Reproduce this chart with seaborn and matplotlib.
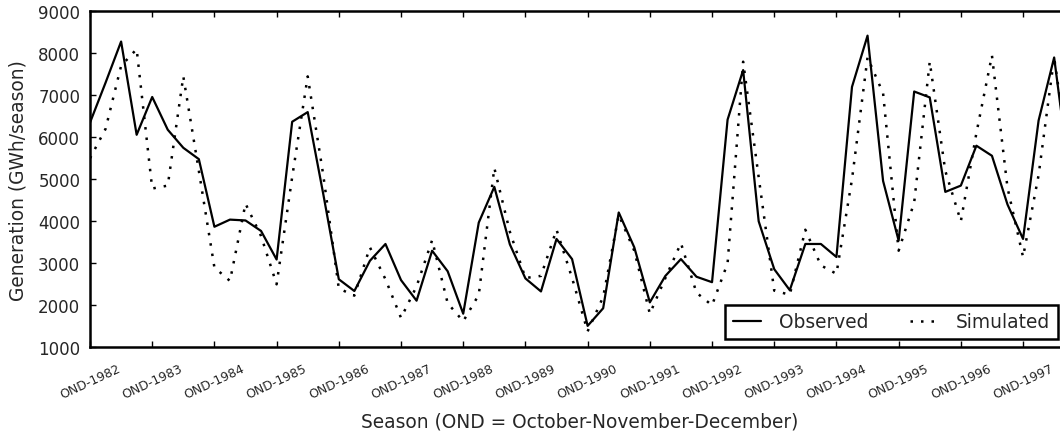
import matplotlib
matplotlib.use("Agg")
import matplotlib.pyplot as plt
import numpy as np
import pandas as pd
import seaborn as sns

# Seasonal hydropower generation (GWh/season), one value per quarter starting OND-1982
observed = [6350, 7300, 8280, 6060, 6960, 6180, 5750, 5480, 3870, 4040,
            4020, 3770, 3090, 6370, 6600, 4650, 2620, 2340, 3060, 3460,
            2600, 2110, 3300, 2810, 1800, 3970, 4820, 3450, 2640, 2330,
            3580, 3100, 1510, 1930, 4210, 3380, 2070, 2700, 3100, 2680,
            2550, 6420, 7600, 4000, 2860, 2360, 3460, 3460, 3150, 7200,
            8420, 4960, 3540, 7090, 6950, 4700, 4850, 5800, 5560, 4400,
            3580, 6400, 7900, 5040]
simulated = [5500, 6200, 7700, 8100, 4780, 4850, 7450, 5200, 2900, 2580,
             4420, 3650, 2500, 5050, 7450, 5100, 2400, 2230, 3380, 2620,
             1700, 2450, 3550, 2050, 1620, 2250, 5270, 3750, 2650, 2700,
             3800, 2650, 1380, 2200, 4150, 3300, 1800, 2650, 3480, 2300,
             2000, 3000, 7800, 5050, 2350, 2250, 3800, 2950, 2750, 5000,
             7900, 7050, 3300, 4450, 7800, 5200, 4000, 6100, 7950, 4800,
             3150, 5100, 7900, 5300]
tick_labels = [f"OND-{y}" for y in range(1982, 1998)]

season_idx = np.arange(len(observed))
df = pd.DataFrame({"season": season_idx, "Observed": observed, "Simulated": simulated})

sns.set_style("white")
plt.rcParams["font.family"] = ["DejaVu Sans"]
plt.rcParams["text.color"] = "0.15"

W, H = 1060, 435
fig = plt.figure(figsize=(W / 100, H / 100), dpi=100)
left, right, top, bottom = 90, 1069.7, 12.3, 348.3
ax = fig.add_axes([left / W, 1 - bottom / H, (right - left) / W, (bottom - top) / H])

sns.lineplot(data=df, x="season", y="Observed", ax=ax, color="black",
             linewidth=1.6, label="Observed")
sns.lineplot(data=df, x="season", y="Simulated", ax=ax, color="black",
             linewidth=1.8, linestyle=(0, (1, 3.2)), label="Simulated")

ax.set_xlim(0, len(observed) - 1)
ax.set_ylim(1000, 9000)
ax.set_yticks(np.arange(1000, 9001, 1000))
ax.set_xticks(np.arange(0, 4 * len(tick_labels), 4))
ax.set_xticklabels(tick_labels, rotation=25, ha="center", fontsize=9, color="0.15")
ax.tick_params(direction="in", length=4.5, width=1, top=True, right=True,
               bottom=True, left=True, colors="black")
ax.tick_params(axis="y", labelsize=12, labelcolor="0.15", pad=7)
ax.tick_params(axis="x", labelcolor="0.15", pad=10)

for s in ax.spines.values():
    s.set_linewidth(1.8)
    s.set_color("black")

ax.set_xlabel("Season (OND = October-November-December)", fontsize=13.4, color="0.15", labelpad=8)
ax.set_ylabel("Generation (GWh/season)", fontsize=13.4, color="0.15", labelpad=8)

leg = ax.legend(loc="lower right", ncol=2, fontsize=13.4, frameon=True, fancybox=False,
                bbox_to_anchor=(0.988, 0.026), borderaxespad=0, handlelength=1.5,
                handletextpad=1.0, columnspacing=2.2, borderpad=0.4)
leg.get_frame().set_edgecolor("black")
leg.get_frame().set_linewidth(1.8)
leg.get_frame().set_alpha(1)

fig.savefig("out.png", dpi=100)
